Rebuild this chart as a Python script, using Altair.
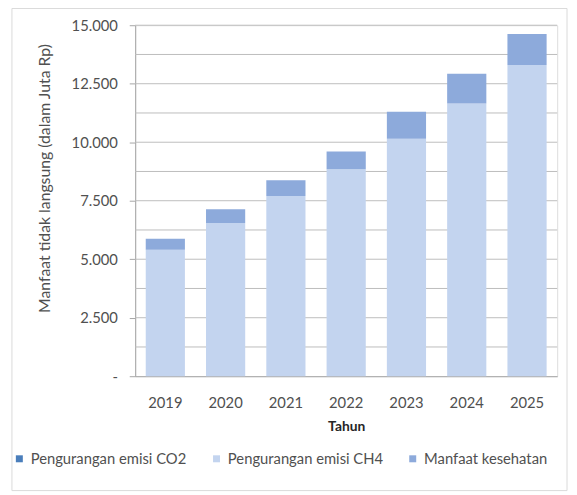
import altair as alt
import pandas as pd

years = ["2019", "2020", "2021", "2022", "2023", "2024", "2025"]
series = ["Pengurangan emisi CO2", "Pengurangan emisi CH4", "Manfaat kesehatan"]
co2 = [0, 0, 0, 0, 0, 0, 0]
ch4 = [5400, 6550, 7700, 8850, 10150, 11650, 13300]
kesehatan = [470, 590, 670, 750, 1150, 1280, 1320]
y_ticks = [0, 2500, 5000, 7500, 10000, 12500, 15000]
grid_values = [1250, 2500, 3750, 5000, 6250, 7500, 8750, 10000, 11250, 12500, 13750, 15000]
colors = ["#4a7ebb", "#c3d4ef", "#8daadb"]

rows = []
for i, y in enumerate(years):
    for k, (name, vals) in enumerate(zip(series, [co2, ch4, kesehatan])):
        rows.append({"Tahun": y, "Seri": name, "Nilai": vals[i], "urut": k})
df = pd.DataFrame(rows)

FONT = "Lato"
ysc = alt.Scale(domain=[0, 15000], nice=False)
yaxis = alt.Axis(title="Manfaat tidak langsung (dalam Juta Rp)", values=y_ticks,
                 labelExpr="datum.value == 0 ? '-' : replace(format(datum.value, ','), ',', '.')",
                 grid=False, tickSize=6, tickColor="#a6a6a6", domainColor="#a6a6a6",
                 labelPadding=12, labelFontSize=15, labelColor="#505050",
                 titleFontSize=16, titleColor="#505050", titleFontWeight="normal",
                 titleX=-92, titleY=155, titleAlign="center", titleBaseline="middle")

grid = alt.Chart(pd.DataFrame({"v": grid_values})).mark_rule(
    color="#bdbdbd", strokeWidth=1
).encode(y=alt.Y("v:Q", scale=ysc, axis=yaxis, title="Manfaat tidak langsung (dalam Juta Rp)"))

bars = alt.Chart(df).mark_bar().encode(
    x=alt.X("Tahun:N", sort=years,
            scale=alt.Scale(paddingInner=0.35, paddingOuter=0.175),
            axis=alt.Axis(title="Tahun", labelAngle=0, tickSize=0, labelPadding=20,
                          domainColor="#a6a6a6", labelFontSize=15, labelColor="#505050",
                          titleFontSize=14, titleFontWeight="bold", titleColor="#262626",
                          titleY=51, titleBaseline="middle")),
    y=alt.Y("Nilai:Q", stack="zero", scale=ysc, axis=yaxis,
            title="Manfaat tidak langsung (dalam Juta Rp)"),
    color=alt.Color("Seri:N", sort=series,
                    scale=alt.Scale(domain=series, range=colors),
                    legend=alt.Legend(title=None, orient="none", direction="horizontal",
                                      legendX=-125, legendY=432, symbolType="square",
                                      symbolSize=50, symbolStrokeWidth=0, labelFontSize=15,
                                      labelColor="#505050", columnPadding=22, labelOffset=4)),
    order=alt.Order("urut:Q", sort="ascending"),
)

frame = alt.Chart(pd.DataFrame({"a": [0]})).mark_rect(
    fill="transparent", stroke="#d9d9d9", strokeWidth=1
).encode(x=alt.value(-125), x2=alt.value(438), y=alt.value(-17), y2=alt.value(472))

chart = alt.layer(grid, bars, frame).properties(
    width=428, height=356,
    autosize=alt.AutoSizeParams(type="none"),
    padding={"left": 129, "top": 14, "right": 12, "bottom": 117},
).configure_view(stroke=None).configure(font=FONT, background="white")

chart.save("out.html", embed_options={"renderer": "svg", "actions": False})
